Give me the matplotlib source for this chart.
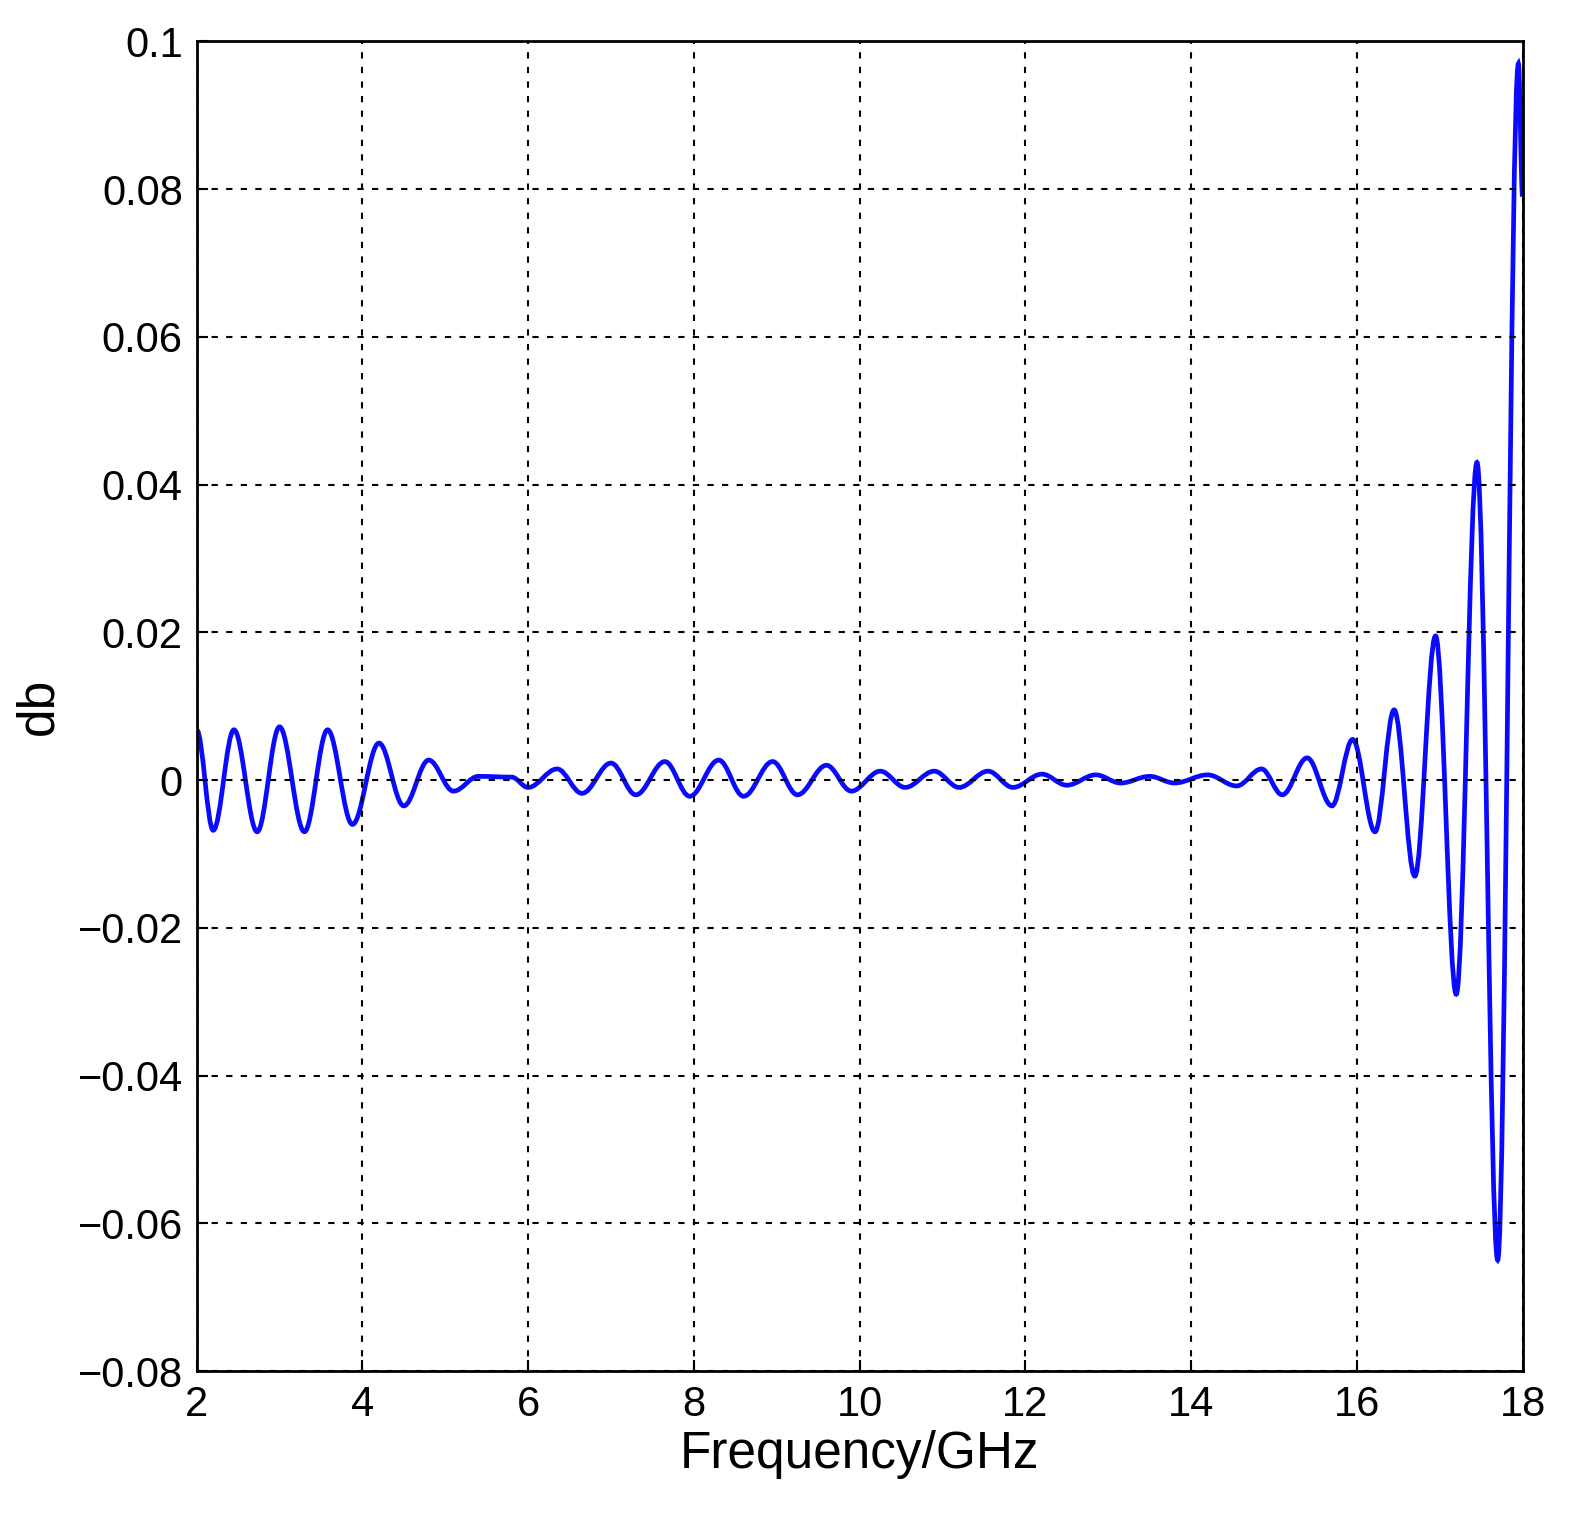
import matplotlib
matplotlib.use("Agg")
import matplotlib.pyplot as plt
from matplotlib.path import Path
from matplotlib.patches import PathPatch

plt.rcParams['font.family'] = ['Liberation Sans', 'DejaVu Sans']

# extrema of the curve (frequency GHz, dB)
freq = [2.0, 2.2, 2.45, 2.73, 3.0, 3.3, 3.58, 3.88, 4.2, 4.5, 4.8, 5.1, 5.4, 5.8,
        6.0, 6.35, 6.65, 7.0, 7.3, 7.65, 7.95, 8.3, 8.6, 8.95, 9.25, 9.6, 9.9,
        10.25, 10.55, 10.9, 11.2, 11.55, 11.85, 12.2, 12.5, 12.85, 13.15, 13.5,
        13.8, 14.2, 14.55, 14.85, 15.1, 15.4, 15.7, 15.95, 16.22, 16.45, 16.7,
        16.95, 17.2, 17.45, 17.7, 17.95, 18.0]
db = [0.0068, -0.0068, 0.0068, -0.007, 0.0072, -0.007, 0.0068, -0.006, 0.005,
      -0.0035, 0.0027, -0.0015, 0.0005, 0.0004, -0.001, 0.0015, -0.0018, 0.0023,
      -0.002, 0.0025, -0.0022, 0.0027, -0.0022, 0.0025, -0.002, 0.002, -0.0015,
      0.0012, -0.001, 0.0012, -0.001, 0.0012, -0.001, 0.0008, -0.0007, 0.0007,
      -0.0004, 0.0005, -0.0004, 0.0007, -0.0008, 0.0015, -0.002, 0.003, -0.0035,
      0.0055, -0.007, 0.0095, -0.013, 0.0195, -0.029, 0.043, -0.065, 0.097, 0.079]

fig = plt.figure(figsize=(15.86, 15.31), dpi=100)
ax = fig.add_axes([0.124, 0.1045, 0.836, 0.8685])

verts = [(freq[0], db[0])]
codes = [Path.MOVETO]
for i in range(1, len(freq)):
    x0, y0, x1, y1 = freq[i-1], db[i-1], freq[i], db[i]
    dx = x1 - x0
    verts += [(x0 + dx * 0.36, y0), (x1 - dx * 0.36, y1), (x1, y1)]
    codes += [Path.CURVE4] * 3
ax.add_patch(PathPatch(Path(verts, codes), fill=False, edgecolor='#0a0aff', lw=3.4))

ax.set_xlim(2, 18)
ax.set_ylim(-0.08, 0.1)
ax.set_xticks(range(2, 19, 2))
yt = [-0.08, -0.06, -0.04, -0.02, 0, 0.02, 0.04, 0.06, 0.08, 0.1]
ax.set_yticks(yt)
ax.set_yticklabels(['\u22120.08', '\u22120.06', '\u22120.04', '\u22120.02', '0',
                    '0.02', '0.04', '0.06', '0.08', '0.1'])
ax.grid(True, linestyle=(0, (3, 4)), color='black', lw=1.5)
ax.tick_params(labelsize=30, direction='in', length=8, width=1.5, pad=10)
for s in ax.spines.values():
    s.set_linewidth(2)
ax.set_xlabel('Frequency/GHz', fontsize=37, labelpad=4)
ax.set_ylabel('db', fontsize=37, labelpad=10)
fig.savefig('out.png', dpi=100)
